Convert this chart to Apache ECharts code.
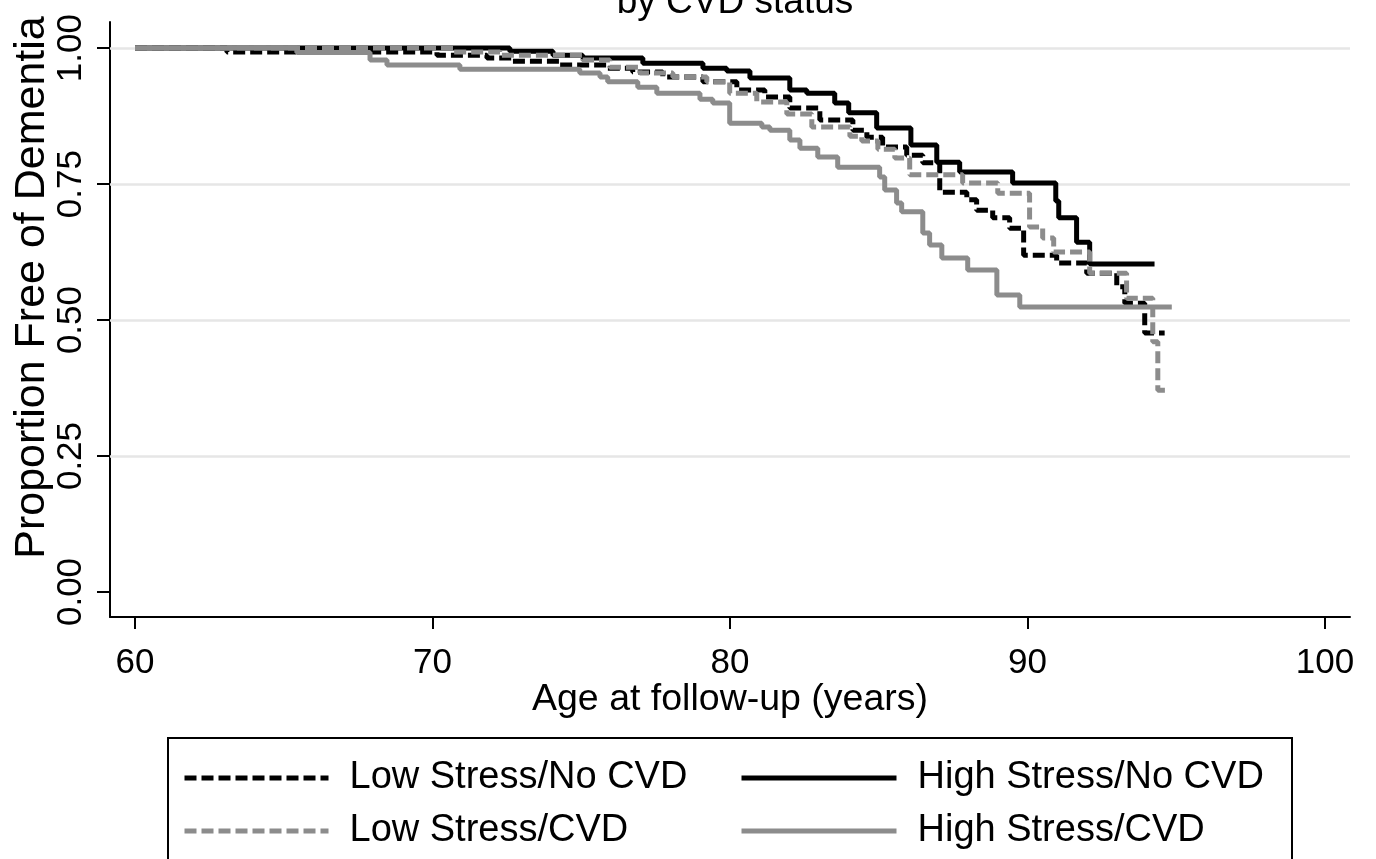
<!DOCTYPE html>
<html>
<head>
<meta charset="utf-8">
<script src="https://cdn.jsdelivr.net/npm/echarts@6/dist/echarts.min.js"></script>
<style>
html,body{margin:0;padding:0;background:#fff;}
#chart{width:1376px;height:859px;}
</style>
</head>
<body>
<div id="chart"></div>
<script>
// ---- data ----
const seriesNames = ['Low Stress/No CVD', 'High Stress/No CVD', 'Low Stress/CVD', 'High Stress/CVD'];
const xTicks = [60, 70, 80, 90, 100];
const yTicks = [0, 0.25, 0.5, 0.75, 1];
const yTickLabels = ['0.00', '0.25', '0.50', '0.75', '1.00'];
const gridValues = [0.25, 0.5, 0.75, 1];

// Age at which the estimate steps, and survival after the step (last pair = end of follow-up)
const lowNoCvdAge  = [60, 63.09, 70.15, 71.83, 72.70, 74.28, 75.86, 76.73, 77.74, 79.09, 80.23, 81.17, 82.01, 83.02, 84.13, 84.60, 85.13, 85.94, 86.48, 87.05, 87.96, 88.29, 88.83, 89.40, 89.87, 90.98, 91.99, 93.00, 93.27, 93.94, 94.61];
const lowNoCvdSurv = [1, 0.993, 0.987, 0.982, 0.976, 0.969, 0.963, 0.956, 0.947, 0.938, 0.923, 0.910, 0.890, 0.868, 0.849, 0.836, 0.818, 0.803, 0.789, 0.735, 0.721, 0.702, 0.688, 0.669, 0.619, 0.605, 0.586, 0.561, 0.531, 0.476, 0.476];

const highNoCvdAge  = [60, 72.6, 74.05, 75.05, 77.07, 79.09, 79.89, 80.67, 82.01, 82.58, 83.52, 83.99, 84.93, 86.08, 86.95, 87.72, 89.50, 90.95, 91.05, 91.65, 92.09, 94.27];
const highNoCvdSurv = [1, 0.994, 0.987, 0.982, 0.972, 0.963, 0.958, 0.945, 0.923, 0.917, 0.899, 0.881, 0.853, 0.822, 0.790, 0.772, 0.752, 0.719, 0.688, 0.643, 0.603, 0.603];

const lowCvdAge  = [60, 70.69, 72.27, 75.05, 75.96, 76.97, 78.08, 79.22, 79.99, 80.90, 81.91, 82.75, 84.03, 84.43, 84.97, 85.54, 86.04, 87.82, 89.00, 90.07, 90.51, 90.88, 92.09, 93.33, 94.21, 94.38, 94.78];
const lowCvdSurv = [1, 0.993, 0.987, 0.978, 0.965, 0.954, 0.947, 0.938, 0.917, 0.901, 0.879, 0.855, 0.838, 0.829, 0.814, 0.798, 0.767, 0.752, 0.733, 0.671, 0.651, 0.625, 0.586, 0.540, 0.460, 0.371, 0.371];

const highCvdAge  = [60, 65.44, 67.90, 68.47, 70.92, 74.95, 75.63, 75.89, 76.90, 77.54, 78.99, 79.42, 79.99, 81.07, 81.34, 82.01, 82.35, 82.95, 83.62, 85.03, 85.20, 85.60, 85.77, 86.48, 86.71, 87.12, 87.99, 88.97, 89.74, 94.85];
const highCvdSurv = [1, 0.992, 0.978, 0.969, 0.961, 0.954, 0.947, 0.938, 0.928, 0.917, 0.906, 0.899, 0.862, 0.855, 0.849, 0.831, 0.816, 0.800, 0.781, 0.763, 0.739, 0.715, 0.699, 0.660, 0.638, 0.614, 0.592, 0.546, 0.524, 0.524];

// ---- chart ----
const FONT = '"Liberation Sans", Arial, Helvetica, sans-serif';
const GRAY = '#8c8c8c';
const DASH = [12, 5];
function pairs(a, s) { return a.map((v, i) => [v, s[i]]); }

function curve(name, ages, surv, color, dashed, extra) {
  return Object.assign({
    name: name,
    type: 'line',
    step: 'end',
    data: pairs(ages, surv),
    showSymbol: false,
    symbol: 'none',
    silent: true,
    z: 3,
    lineStyle: { color: color, width: 5, type: dashed ? DASH : 'solid', cap: 'butt' },
    itemStyle: { color: color }
  }, extra || {});
}

const chart = echarts.init(document.getElementById('chart'), null, { renderer: 'canvas' });

function legendAt(name, left, top, w) {
  return {
    data: [name],
    left: left, top: top,
    orient: 'horizontal',
    selectedMode: false,
    itemWidth: w, itemHeight: 14,
    itemStyle: { color: 'rgba(0,0,0,0)', borderWidth: 0, opacity: 0 },
    lineStyle: { width: 5 },
    textStyle: { fontSize: 38, color: '#000', fontFamily: FONT, padding: [0, 0, 0, 16] }
  };
}

const option = {
  animation: false,
  backgroundColor: '#fff',
  title: {
    text: 'by CVD status',
    left: 730, top: -21, textAlign: 'center',
    textStyle: { fontSize: 37, fontWeight: 'normal', color: '#000', fontFamily: FONT }
  },
  legend: [
    legendAt(seriesNames[0], 177, 754, 144),
    legendAt(seriesNames[1], 734, 754, 155),
    legendAt(seriesNames[2], 177, 807, 144),
    legendAt(seriesNames[3], 734, 807, 155)
  ],
  grid: { left: 110, right: 26, top: 22, bottom: 242, containLabel: false, outerBoundsMode: 'none' },
  xAxis: {
    type: 'value', min: 59.16, max: 100.84,
    name: 'Age at follow-up (years)', nameLocation: 'middle', nameGap: 64, nameMoveOverlap: false,
    nameTextStyle: { fontSize: 37.5, color: '#000', fontFamily: FONT },
    axisLine: { show: true, onZero: false, lineStyle: { color: '#000', width: 2 } },
    axisTick: { show: true, customValues: xTicks, length: 12, lineStyle: { color: '#000', width: 2 } },
    axisLabel: { customValues: xTicks, fontSize: 35, color: '#000', fontFamily: FONT, margin: 29 },
    splitLine: { show: false }
  },
  yAxis: {
    type: 'value', min: -0.046, max: 1.048,
    name: 'Proportion Free of Dementia', nameLocation: 'middle', nameGap: 56, nameRotate: 90, nameMoveOverlap: false,
    nameTextStyle: { fontSize: 43, color: '#000', fontFamily: FONT, padding: [0, 0, 0, 64] },
    axisLine: { show: true, onZero: false, lineStyle: { color: '#000', width: 2 } },
    axisTick: { show: true, customValues: yTicks, length: 13, lineStyle: { color: '#000', width: 2 } },
    axisLabel: {
      customValues: yTicks, rotate: 90, fontSize: 35, color: '#000', fontFamily: FONT, margin: 21,
      formatter: function (v) { const i = yTicks.indexOf(v); return i >= 0 ? yTickLabels[i] : ''; }
    },
    splitLine: { show: false }
  },
  graphic: [{
    type: 'rect', silent: true,
    shape: { x: 168, y: 738, width: 1124, height: 160 },
    style: { fill: 'none', stroke: '#000', lineWidth: 2 }
  }],
  series: [
    curve(seriesNames[0], lowNoCvdAge, lowNoCvdSurv, '#000', true, {
      markLine: {
        silent: true, z: 1, symbol: 'none', label: { show: false },
        lineStyle: { color: '#e6e6e6', width: 2.5, type: 'solid' },
        data: gridValues.map(v => ({ yAxis: v }))
      }
    }),
    curve(seriesNames[1], highNoCvdAge, highNoCvdSurv, '#000', false),
    curve(seriesNames[2], lowCvdAge, lowCvdSurv, GRAY, true),
    curve(seriesNames[3], highCvdAge, highCvdSurv, GRAY, false)
  ]
};
chart.setOption(option);
</script>
</body>
</html>
